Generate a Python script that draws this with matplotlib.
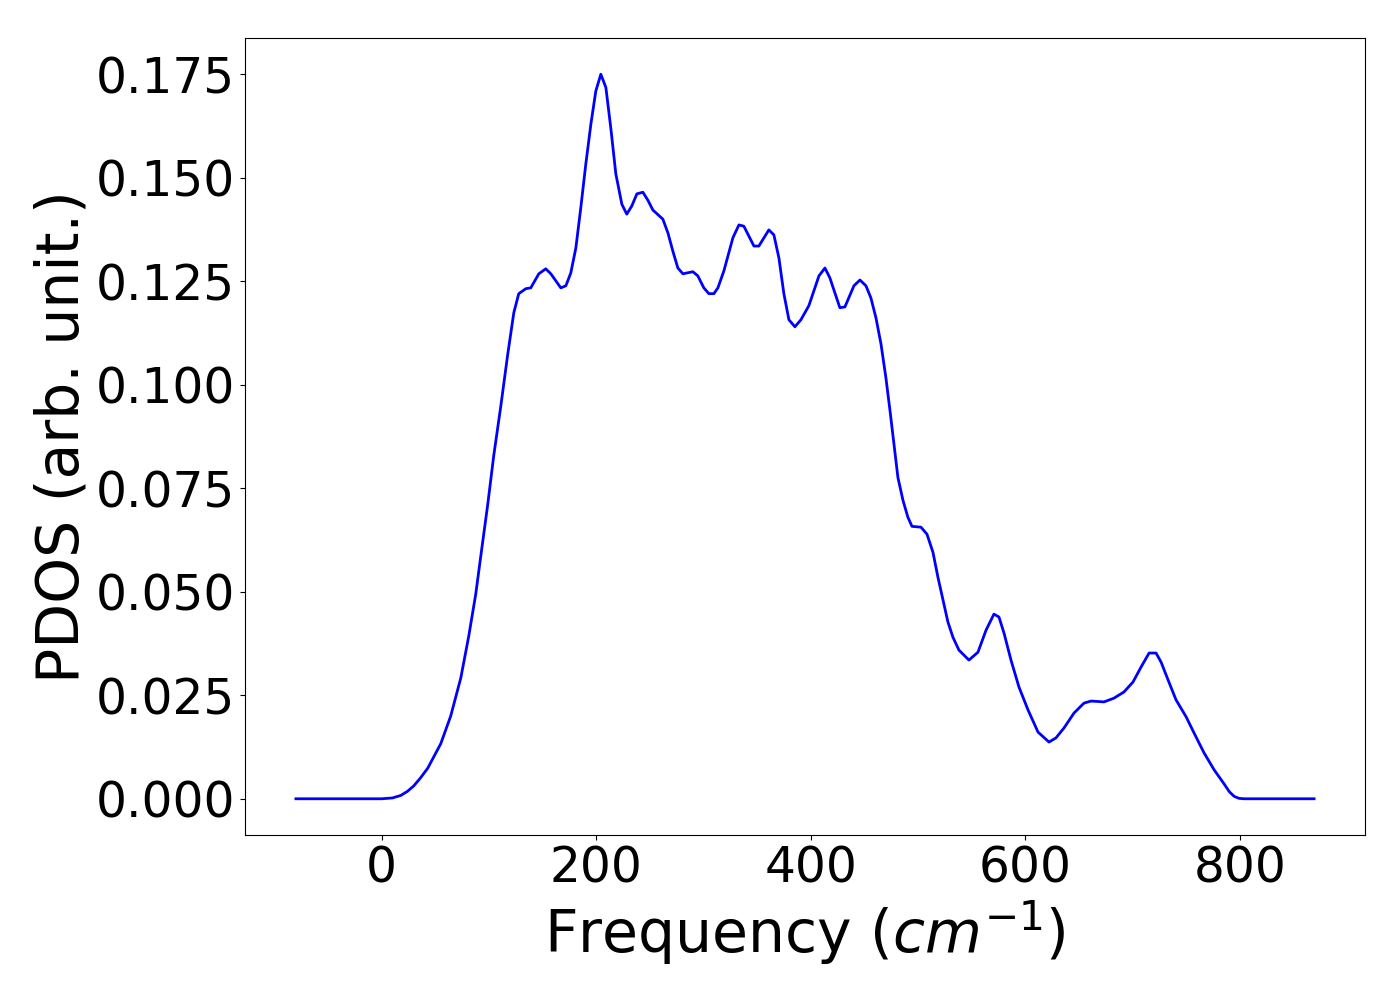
import matplotlib
matplotlib.use("Agg")
import matplotlib.pyplot as plt

freq = [-80, 0, 10.0, 17.7, 24.0, 29.8, 36.0, 42.9, 55.0, 64.3, 73.7, 81.1, 87.6, 92.3, 98.8, 104.4, 110.9,
        117.4, 123.1, 127.7, 134.3, 138.9, 146.4, 152.9, 157.6, 166.9, 171.6, 176.2, 180.9,
        185.5, 190.2, 194.9, 199.5, 204.2, 208.9, 213.5, 218.2, 223.8, 228.4, 233.1, 237.8,
        243.4, 248.0, 252.7, 262.0, 266.7, 271.3, 276.0, 280.7, 290.0, 294.6, 300.2, 304.9,
        309.6, 313.3, 318.9, 327.3, 332.9, 337.5, 346.9, 351.5, 360.8, 365.5, 370.2, 374.8,
        379.5, 385.1, 390.7, 398.1, 407.5, 413.1, 417.7, 423.3, 427.0, 431.7, 440.1, 445.7,
        451.3, 455.9, 460.6, 465.3, 469.9, 473.7, 477.4, 481.1, 485.8, 490.4, 494.2, 502.6,
        508.2, 513.8, 518.4, 523.1, 527.7, 532.4, 538.0, 547.3, 555.7, 563.2, 570.6, 575.3,
        580.0, 586.5, 593.9, 602.3, 611.7, 621.9, 628.4, 635.9, 645.2, 654.5, 661.1, 673.2,
        682.5, 691.8, 700.2, 707.7, 715.2, 721.7, 726.4, 732.9, 740.3, 749.7, 757.1, 766.4,
        775.8, 785.1, 790.0, 794.4, 799.0, 803.7, 869]

pdos = [0, 0, 0.0002, 0.0008, 0.0018, 0.0031, 0.0050, 0.0074, 0.0133, 0.0200, 0.0292, 0.0393, 0.0494, 0.0586,
        0.0711, 0.0829, 0.0947, 0.1073, 0.1174, 0.1220, 0.1232, 0.1234, 0.1268, 0.1280,
        0.1268, 0.1234, 0.1239, 0.1270, 0.1330, 0.1427, 0.1533, 0.1629, 0.1709, 0.1750,
        0.1718, 0.1620, 0.1509, 0.1436, 0.1412, 0.1432, 0.1461, 0.1465, 0.1446, 0.1422,
        0.1400, 0.1367, 0.1323, 0.1282, 0.1268, 0.1273, 0.1263, 0.1234, 0.1220, 0.1220,
        0.1234, 0.1275, 0.1355, 0.1386, 0.1383, 0.1335, 0.1335, 0.1374, 0.1362, 0.1306,
        0.1220, 0.1157, 0.1140, 0.1157, 0.1191, 0.1263, 0.1282, 0.1258, 0.1215, 0.1186,
        0.1188, 0.1239, 0.1253, 0.1239, 0.1210, 0.1162, 0.1099, 0.1017, 0.0938, 0.0858,
        0.0776, 0.0721, 0.0680, 0.0658, 0.0656, 0.0639, 0.0595, 0.0535, 0.0480, 0.0427,
        0.0390, 0.0359, 0.0335, 0.0354, 0.0407, 0.0446, 0.0439, 0.0400, 0.0335, 0.0270,
        0.0215, 0.0161, 0.0137, 0.0147, 0.0171, 0.0207, 0.0231, 0.0236, 0.0234, 0.0243,
        0.0258, 0.0282, 0.0318, 0.0352, 0.0352, 0.0330, 0.0287, 0.0239, 0.0198, 0.0159,
        0.0111, 0.0070, 0.0036, 0.0017, 0.0006, 0.0001, 0, 0]

fig = plt.figure(figsize=(14, 10), dpi=100)
ax = fig.add_axes([0.175, 0.165, 0.80, 0.797])
ax.plot(freq, pdos, color="blue", linewidth=2)
ax.set_xlabel("Frequency ($cm^{-1}$)", fontsize=42)
ax.set_ylabel("PDOS (arb. unit.)", fontsize=42)
ax.tick_params(axis="both", labelsize=35)
ax.set_xticks([0, 200, 400, 600, 800])
ax.set_yticks([0.0, 0.025, 0.05, 0.075, 0.1, 0.125, 0.15, 0.175])
ax.set_yticklabels(["0.000", "0.025", "0.050", "0.075", "0.100", "0.125", "0.150", "0.175"])
fig.savefig("out.png", dpi=100)
